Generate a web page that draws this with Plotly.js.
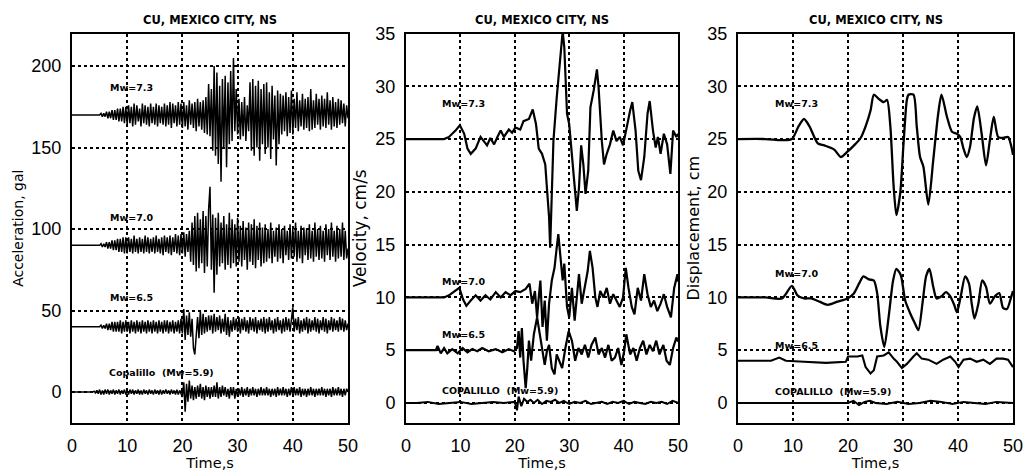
<!DOCTYPE html>
<html>
<head>
<meta charset="utf-8">
<script src="https://cdn.plot.ly/plotly-3.0.1.min.js"></script>
<style>html,body{margin:0;padding:0;background:#fff;}#chart{width:1025px;height:471px;}</style>
</head>
<body>
<div id="chart"></div>
<script>
// ---------- DATA ----------
const panelTitle = "CU, MEXICO CITY, NS";
const xTitle = "Time,s";
const yTitles = ["Acceleration, gal", "Velocity, cm/s", "Displacement, cm"];
const xTickVals = [0, 10, 20, 30, 40, 50];
const accTickVals = [0, 50, 100, 150, 200];
const velTickVals = [0, 5, 10, 15, 20, 25, 30, 35];
const dispTickVals = [0, 5, 10, 15, 20, 25, 30, 35];
const labels73 = "Mw=7.3", labels70 = "Mw=7.0", labels65 = "Mw=6.5";
const labelCopA = "Copalillo  (Mw=5.9)", labelCopB = "COPALILLO  (Mw=5.9)";

// Acceleration (gal), sampled every 0.25 s from 0 to 50 s
const accDt = 0.25;
const accMw73 = [
170,170,170,170,170,170,170,170,170,170,170,170,170,170,170,170,170,170,170,170,
170,171,169,171,169,172,168,172,168,173,167,173,167,174,166,174,166,175,165,175,
164,176,165,175,163,177,164,176,166,174,163,177,165,176,164,175,163,177,165,175,
164,177,163,176,165,175,164,177,163,176,164,178,162,177,165,176,163,178,164,177,
162,178,163,176,161,179,164,177,162,178,160,180,163,178,161,179,159,181,158,189,
157,186,148,200,145,196,140,188,129,192,150,194,138,190,152,197,154,205,160,186,
158,180,155,178,157,181,154,176,160,190,148,192,145,188,150,191,142,186,152,189,
146,190,150,184,143,188,155,182,139,185,152,183,158,182,160,184,157,181,159,185,
158,180,162,184,160,179,163,183,161,180,162,181,160,186,161,179,162,183,164,180,
161,182,163,180,162,184,164,179,161,181,163,178,162,180,164,179,165,177,163,176,
168];
const accMw70 = [
90,90,90,90,90,90,90,90,90,90,90,90,90,90,90,90,90,90,90,90,
90,91,89,91,89,92,88,92,88,93,87,93,87,94,86,94,86,95,85,95,
85,95,86,94,85,96,86,94,85,95,86,94,85,96,86,95,85,94,86,95,
85,96,86,94,85,95,84,96,86,95,85,96,84,95,86,97,85,96,84,97,
85,98,83,97,86,99,80,104,78,108,74,110,76,106,79,111,73,108,77,112,
126,75,109,61,107,72,110,77,104,79,108,75,103,78,110,76,106,79,103,77,
107,80,102,77,105,81,101,75,104,80,103,78,106,76,102,81,104,77,101,79,
103,80,100,82,104,79,99,83,101,80,103,82,100,79,102,84,99,81,103,82,
100,83,104,80,99,82,102,79,101,84,100,81,103,82,99,80,104,83,100,81,
102,82,99,80,103,84,100,81,104,83,99,80,102,82,100,83,104,81,99,82,
88];
const accMw65 = [
40,40,40,40,40,40,40,40,40,40,40,40,40,40,40,40,40,40,40,40,
40,41,39,41,39,42,38,42,38,43,37,43,37,43,37,44,36,43,37,44,
37,43,36,44,37,43,36,44,37,43,36,44,37,43,36,44,37,43,36,44,
37,43,36,44,37,43,36,44,37,44,36,43,37,44,36,43,37,44,36,45,
36,51,32,47,35,49,34,45,27,23,36,46,33,50,35,48,36,46,37,47,
38,47,36,48,37,46,38,47,36,45,37,48,35,46,34,44,37,46,38,45,
37,46,36,45,38,46,37,44,36,46,38,45,37,46,36,44,38,45,37,46,
36,45,37,46,38,44,36,45,37,46,38,44,36,45,37,46,38,45,37,47,
52,37,45,38,46,36,44,37,45,38,46,36,45,37,44,38,46,37,45,36,
44,38,46,37,45,36,44,38,46,37,45,38,44,37,46,38,45,37,44,38,
42];
const accCopalillo = [
0,0,0,0,0,0,0,0,0,0,0,0,0,0,0,0,0.5,-0.5,1,-1,
1.5,-1.5,1,-1.5,1.5,-1,1.5,-1.5,1,-1,1.5,-1.5,1,-1,1.5,-1.5,1,-1,1.5,-1.5,
1,-1.5,1.5,-1,1.5,-1.5,1,-1,1.5,-1.5,1,-1.5,1.5,-1,1,-1.5,1.5,-1,1,-1.5,
1.5,-1,1,-1.5,1.5,-1.5,1,-1,1.5,-1,1,-1.5,1.5,-1,1,-1.5,1.5,-1.5,1,-1,
-3,6,-12,5,-6,7,-4,4,-5,3,-4,4,-3,5,-4,3,-5,4,-3,3,
-4,3,-3,4,-3,6,-4,3,-3,4,-2,3,-3,2,-4,3,-2,3,-4,2,
-3,2,-2,3,-3,2,-2,3,-3,2,-2,3,-2,2,-3,2,-2,3,-2,2,
-2,3,-2,2,-3,2,-2,2,-3,3,-2,2,-2,3,-2,2,-3,2,-2,3,
-2,3,-2,2,-2,3,-3,2,-2,2,-3,2,-2,3,-2,2,-3,2,-2,2,
-2,3,-2,2,-3,2,-2,2,-3,3,-2,2,-2,3,-2,2,-3,2,-2,2,
0];

// Velocity (cm/s)
const velT73 = [0,5,7,7.9,9.1,9.9,10.7,11.3,11.9,12.8,13.7,14.3,14.9,15.5,16.2,16.8,17.4,18,18.9,19.5,20.1,21,21.6,22.6,23.3,23.9,24.4,25,25.6,25.9,26.3,26.5,26.8,27.1,27.7,28.4,28.8,29.1,29.6,30,30.5,31.1,31.4,31.8,32.2,32.6,33,33.5,33.9,34.5,35.1,35.4,36,36.4,36.9,37.5,38.1,38.7,39.3,39.9,40.5,41.2,41.6,42.2,42.7,43.2,43.8,44.4,44.8,45.4,45.9,46.3,46.8,47.4,48,48.6,49.1,49.7,50];
const velMw73 = [25,25,25,25.2,25.8,26.3,25.5,24.1,23.6,24.1,25.2,24.8,24.4,25.1,24.5,25.2,25.8,25.2,25.9,25.6,26.1,25.9,26.7,26.9,27.8,26.4,24.1,23.6,22.6,20.4,17.6,14.7,20.0,24.8,28.9,33.4,35.2,33.7,27.4,26.4,23.3,19.8,18.2,20.4,24.4,22.6,19.8,22.0,28.0,29.6,31.6,29.9,24.8,22.6,23.6,24.5,25.8,24.8,25.2,24.4,26.1,27.7,28.5,25.8,22.0,21.1,23.3,27.4,28.6,25.8,24.2,25.2,23.6,25.5,24.5,21.7,25.8,25.2,25.5];
const velT70 = [0,7,7.9,9.1,9.8,10.5,11.1,11.9,12.8,13.7,14.6,15.5,16.5,17.4,18.3,19.2,20.1,21,22,22.7,23.2,23.7,24.1,24.4,24.7,25.1,25.5,25.9,26.3,26.8,27.3,27.7,28,28.4,28.8,29.1,29.6,30,30.5,31,31.4,31.8,32.3,32.9,33.4,33.8,34.3,34.8,35.2,35.7,36.3,36.9,37.5,38.1,38.7,39.3,39.9,40.4,40.9,41.5,42,42.6,43.2,43.8,44.4,45,45.6,46.2,46.8,47.4,48,48.7,49.3,49.9,50];
const velMw70 = [10,10,10.2,10.6,10.9,9.8,9.2,9.7,10.2,9.7,10.2,9.8,10.5,10.0,10.5,10.2,10.6,10.5,10.8,11.3,9.4,10.6,8.1,10.0,11.6,7.2,9.7,5.9,9.4,11.6,12.8,14.7,16.0,13.8,11.6,13.2,9.1,8.1,10.9,7.8,10.3,12.2,9.4,11.3,12.5,14.4,12.8,10.0,9.1,10.6,10.0,10.9,9.4,10.3,9.7,9.1,10.0,12.8,10.9,9.1,8.4,10.9,9.7,12.2,10.3,9.1,9.7,8.7,9.4,10.3,9.1,8.1,10.9,12.2,11.5];
const velT65 = [0,5.5,5.8,6.4,7,7.6,8.5,9.5,10.4,11.3,12.2,13.1,14,15.2,16.5,17.7,18.9,19.8,20.4,20.7,21,21.3,21.6,22,22.3,22.6,23,23.5,24.1,24.5,25,25.5,25.9,26.3,26.8,27.3,27.7,28.2,28.7,29.3,29.9,30.5,31.1,31.7,32.3,32.9,33.5,34.1,34.8,35.4,36,36.6,37.2,37.8,38.4,39,39.6,40.1,40.5,41.2,41.8,42.4,43,43.6,44.2,44.8,45.4,46,46.6,47.3,47.9,48.5,49.1,49.7,50];
const velMw65 = [5,5,5.4,4.7,5.2,4.7,5.1,4.7,5.2,4.8,5.1,4.9,5.2,4.9,5.1,4.8,5.1,4.9,5.2,6.8,4.3,7.1,4.0,1.4,3.3,5.9,4.0,6.5,8.1,6.8,4.9,3.6,4.9,5.5,3.3,2.7,4.6,4.0,3.3,5.2,6.8,5.9,4.0,5.2,4.6,5.5,4.3,5.5,6.2,4.6,5.2,4.3,5.5,4.0,4.3,5.2,3.6,4.9,6.5,4.6,5.2,4.0,5.2,5.9,4.6,5.5,4.9,5.9,4.6,5.5,4.0,3.6,5.2,6.2,5.8];
const velTCop = [0,2,4,6,8,10,12,14,16,18,20,20.4,20.7,21.2,21.7,22.3,22.9,23.5,24.2,25,25.8,26.6,27.4,28.2,29,30,31,32,33,34,35,36,37,38,39,40,41,42,43,44,45,46,47,48,49,50];
const velCopalillo = [0,0,0.1,-0.1,0,0.1,-0.1,0,0.1,0,0.1,-0.7,0.6,-0.3,0.4,0.1,0.3,0,0.3,-0.1,0.2,0.1,0.3,0,0.2,-0.1,0.1,0,0.2,-0.1,0,0.1,-0.1,0.1,0,0.2,-0.1,0.1,0,-0.1,0.1,0,0.1,-0.1,0.2,0];

// Displacement (cm)
const dispT73 = [0,5,8,9.8,11,12,13,14.5,15.7,17.5,18.7,19.9,21.1,22.3,23.2,24.1,24.7,25.6,26.5,27.1,27.7,28.3,28.8,29.5,30.1,30.7,31,31.9,32.5,33.1,33.7,34.6,35.5,36.4,37,38,38.9,39.8,40.4,41,41.6,42.2,42.9,43.5,44.3,45.1,45.8,46.5,47.3,48.2,49.1,49.7,50];
const dispMw73 = [25,25,24.9,25,26.2,26.9,26.2,24.6,24.4,24.0,23.3,23.8,24.4,25.1,26.2,27.7,29.2,28.8,28.5,28.7,26.2,20.5,17.8,19.9,24.6,28.7,29.2,29.2,26.2,23.3,22.4,18.8,23.0,27.4,29.2,27.1,25.7,25.5,25.2,24.1,23.3,24.3,27.0,28.1,25.5,22.5,24.9,27.1,25.2,25.1,25.2,24.3,23.5];
const dispT70 = [0,5,8,9.8,10.8,12,13.3,14.8,16.3,18.1,19.9,21.1,22,22.8,23.8,24.7,25.3,25.9,26.6,27.4,28.2,28.8,29.6,30.4,31.3,32.2,32.8,33.6,34.2,34.8,35.5,36.1,37,37.8,38.6,39.3,39.8,40.5,41.3,42,42.5,43,43.7,44.4,45.1,45.8,46.7,47.5,48.2,48.9,49.7,50];
const dispMw70 = [10,10,9.9,11.1,10.2,9.9,9.9,9.6,9.3,9.6,9.9,10.4,11.3,12.0,11.7,11.6,10.4,7.2,5.3,8.2,11.6,12.7,12.1,9.7,8.5,7.5,6.9,9.7,12.0,12.7,11.0,9.9,10.1,10.5,10.1,9.3,8.6,10.1,12.0,11.3,9.4,8.0,9.4,11.6,11.0,9.4,10.1,10.4,9.0,8.9,10.1,10.6];
const dispT65 = [0,6,7.5,8.7,12,16,19.6,20,21.7,22.6,23.2,24.1,24.7,25.3,26.5,27.4,28.3,28.9,29.8,30.7,31.9,32.5,33.4,34.6,36.1,37.3,38.6,39.5,40.1,41,42.2,43.4,44.6,45.8,47,48.2,49.1,50];
const dispMw65 = [4,4,4.3,4.0,3.9,3.8,3.9,4.4,4.4,4.5,3.4,2.8,3.1,4.4,4.5,4.8,4.2,3.9,3.3,3.7,4.4,4.7,4.2,4.1,3.7,4.1,4.4,3.9,3.4,4.1,4.2,3.9,4.1,3.7,4.2,4.2,4.1,3.4];
const dispTCop = [0,5,10,15,20,21,22,23,24,25,27,29,31,33,35,37,39,41,43,45,47,49,50];
const dispCopalillo = [0,0,0,0,0,0.2,-0.2,0.1,0.2,0,-0.1,0.1,-0.1,0,0.2,0.1,-0.1,0.1,0,-0.1,0.1,0,0];

// ---------- CHART ----------
const accTime = accMw73.map((_, i) => i * accDt);
const black = '#000';
function tr(x, y, xa, ya, w, shape) {
  return {x: x, y: y, xaxis: xa, yaxis: ya, type: 'scatter', mode: 'lines',
          line: {color: black, width: w, shape: shape || 'linear', smoothing: 0.7},
          hoverinfo: 'skip'};
}
const data = [
  tr(accTime, accMw73, 'x', 'y', 1.5),
  tr(accTime, accMw70, 'x', 'y', 1.5),
  tr(accTime, accMw65, 'x', 'y', 1.5),
  tr(accTime, accCopalillo, 'x', 'y', 1.5),
  tr(velT73, velMw73, 'x2', 'y2', 2.2),
  tr(velT70, velMw70, 'x2', 'y2', 2.2),
  tr(velT65, velMw65, 'x2', 'y2', 2.2),
  tr(velTCop, velCopalillo, 'x2', 'y2', 2),
  tr(dispT73, dispMw73, 'x3', 'y3', 2.3, 'spline'),
  tr(dispT70, dispMw70, 'x3', 'y3', 2.3, 'spline'),
  tr(dispT65, dispMw65, 'x3', 'y3', 2.1),
  tr(dispTCop, dispCopalillo, 'x3', 'y3', 2)
];

const W = 1025, H = 471;
const yDom = [1 - 423 / H, 1 - 33.5 / H];
const tickFont = {family: 'Liberation Sans, Arial, sans-serif', size: 18, color: black};
function tFont(size) { return {family: 'DejaVu Sans, sans-serif', size: size, color: black}; }
function xax(dom, anchor) {
  return {domain: dom, anchor: anchor, range: [0, 50], tickvals: xTickVals, ticks: '',
          showline: true, mirror: true, linecolor: black, linewidth: 2,
          showgrid: true, gridcolor: black, gridwidth: 2, griddash: 'dot', zeroline: false,
          tickfont: tickFont, ticklabelstandoff: 5, fixedrange: true,
          title: {text: xTitle, font: tFont(14.5), standoff: 1}};
}
function yax(dom, anchor, range, tv, title, fs) {
  return {domain: dom, anchor: anchor, range: range, tickvals: tv, ticks: '',
          showline: true, mirror: true, linecolor: black, linewidth: 2,
          showgrid: true, gridcolor: black, gridwidth: 2, griddash: 'dot', zeroline: false,
          tickfont: tickFont, ticklabelstandoff: 5, fixedrange: true,
          title: {text: title, font: tFont(fs), standoff: 4}};
}
const d1 = [72 / W, 348 / W], d2 = [406 / W, 678 / W], d3 = [738 / W, 1013 / W];
const lblFont = {family: 'DejaVu Sans, sans-serif', size: 9.5, color: black};
function lbl(text, x, y, xr, yr) {
  return {text: '<b>' + text + '</b>', x: x, y: y, xref: xr, yref: yr, xanchor: 'left',
          yanchor: 'middle', showarrow: false, font: lblFont};
}
function ttl(dom) {
  return {text: '<b>' + panelTitle + '</b>', x: (dom[0] + dom[1]) / 2, y: 1 - 20 / H,
          xref: 'paper', yref: 'paper', xanchor: 'center', yanchor: 'middle', showarrow: false,
          font: {family: 'DejaVu Sans, sans-serif', size: 11.5, color: black}};
}
const layout = {
  width: W, height: H, margin: {l: 0, r: 0, t: 0, b: 0},
  paper_bgcolor: '#fff', plot_bgcolor: '#fff', showlegend: false,
  xaxis: xax(d1, 'y'), yaxis: yax(yDom, 'x', [-19, 220], accTickVals, yTitles[0], 14),
  xaxis2: xax(d2, 'y2'), yaxis2: yax(yDom, 'x2', [-1.9, 35], velTickVals, yTitles[1], 17),
  xaxis3: xax(d3, 'y3'), yaxis3: yax(yDom, 'x3', [-1.9, 35], dispTickVals, yTitles[2], 16),
  annotations: [
    ttl(d1), ttl(d2), ttl(d3),
    lbl(labels73, 6.5, 187, 'x', 'y'), lbl(labels70, 6.5, 107, 'x', 'y'),
    lbl(labels65, 6.5, 58, 'x', 'y'), lbl(labelCopA, 6.3, 12, 'x', 'y'),
    lbl(labels73, 6.25, 28.4, 'x2', 'y2'), lbl(labels70, 6.25, 11.5, 'x2', 'y2'),
    lbl(labels65, 6.25, 6.5, 'x2', 'y2'), lbl(labelCopB, 6.25, 1.2, 'x2', 'y2'),
    lbl(labels73, 6.4, 28.4, 'x3', 'y3'), lbl(labels70, 6.4, 12.3, 'x3', 'y3'),
    lbl(labels65, 6.4, 5.4, 'x3', 'y3'), lbl(labelCopB, 6.4, 1.1, 'x3', 'y3')
  ]
};
Plotly.newPlot('chart', data, layout, {displayModeBar: false, staticPlot: true});
</script>
</body>
</html>
